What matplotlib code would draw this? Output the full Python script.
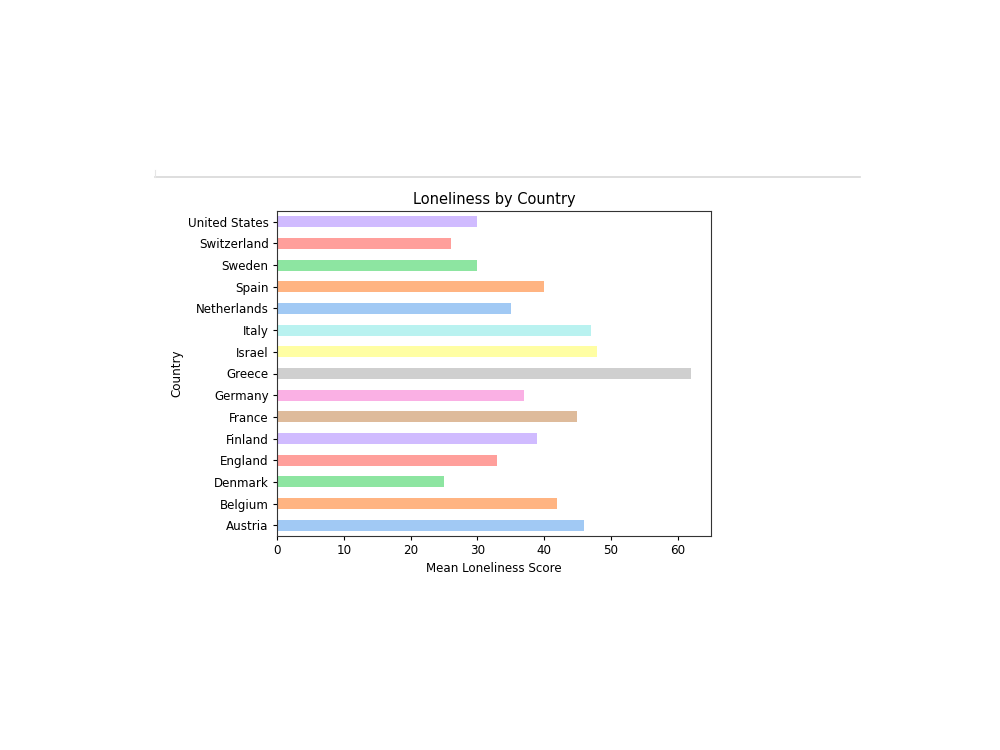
import matplotlib
matplotlib.use("Agg")
import matplotlib.pyplot as plt
from matplotlib.lines import Line2D

countries = ["Austria", "Belgium", "Denmark", "England", "Finland", "France", "Germany",
             "Greece", "Israel", "Italy", "Netherlands", "Spain", "Sweden", "Switzerland",
             "United States"]
scores = [46, 42, 25, 33, 39, 45, 37, 62, 48, 47, 35, 40, 30, 26, 30]

pastel = ["#a1c9f4", "#ffb482", "#8de5a1", "#ff9f9b", "#d0bbff",
          "#debb9b", "#fab0e4", "#cfcfcf", "#fffea3", "#b9f2f0"]
colors = [pastel[i % len(pastel)] for i in range(len(countries))]

fs = 8.6
fig = plt.figure(figsize=(10, 7.5), dpi=100)
ax = fig.add_axes([0.277, 0.2853, 0.434, 0.4334])
ax.barh(range(len(countries)), scores, height=0.5, color=colors)
ax.set_yticks(range(len(countries)))
ax.set_yticklabels(countries, fontsize=fs)
ax.tick_params(axis="x", labelsize=fs, length=3.0, pad=3)
ax.tick_params(axis="y", length=3.0, pad=3)
ax.set_xlim(0, 65)
ax.set_ylim(-0.5, len(countries) - 0.5)
ax.set_xlabel("Mean Loneliness Score", fontsize=fs, labelpad=3)
ax.set_ylabel("Country", fontsize=fs, labelpad=3)
ax.set_title("Loneliness by Country", fontsize=10.5, pad=5)
for s in ax.spines.values():
    s.set_linewidth(0.8)
    s.set_color("#333333")

fig.add_artist(Line2D([0.155, 0.86], [1 - 177 / 750, 1 - 177 / 750],
                      transform=fig.transFigure, color="#d8d8d8", lw=1.2))
fig.add_artist(Line2D([0.155, 0.155], [1 - 177 / 750, 1 - 170 / 750],
                      transform=fig.transFigure, color="#e6e6e6", lw=0.8))

fig.savefig("out.png", dpi=100)
